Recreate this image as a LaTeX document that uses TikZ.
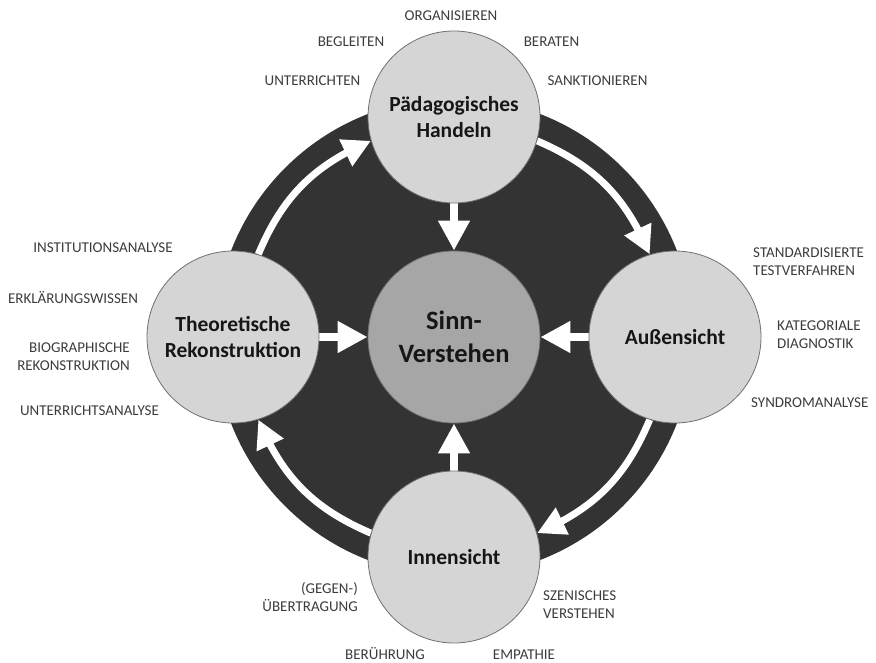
\documentclass[tikz,border=0pt]{standalone}
\usepackage{fontspec}
\setmainfont{Carlito}
\usetikzlibrary{arrows.meta,bending,backgrounds}
\definecolor{ringcol}{HTML}{333333}
\definecolor{disccol}{HTML}{D4D5D4}
\definecolor{corecol}{HTML}{A5A6A5}
\definecolor{rimcol}{HTML}{707070}
\definecolor{lblcol}{HTML}{3C3C3C}
\definecolor{ttlcol}{HTML}{161616}
\tikzset{
  phase/.style={circle, draw=rimcol, line width=0.8pt, fill=disccol, minimum size=172pt,
    inner sep=0pt, align=center, text=ttlcol, font=\bfseries\fontsize{21.5}{26}\selectfont},
  corebox/.style={phase, fill=corecol, font=\bfseries\fontsize{26.5}{33}\selectfont},
  lab/.style={inner sep=0pt, text=lblcol, font=\fontsize{15}{18}\selectfont, anchor=base},
  sarrow/.style={draw=white, line width=8pt, -{Triangle[width=30pt,length=30pt,fill=white]}},
  carrow/.style={draw=white, line width=7pt, -{Triangle[width=28pt,length=28pt,fill=white]}},
}
\begin{document}
\begin{tikzpicture}[x=1pt,y=1pt]
\useasboundingbox (0,0) rectangle (876,-662);
% circles
\node[corebox] (C) at (454,-337) {Sinn-\\Verstehen};
\node[phase] (T) at (454,-117) {Pädagogisches\\Handeln};
\node[phase] (L) at (233,-337) {Theoretische\\Rekonstruktion};
\node[phase] (R) at (675,-337) {Außensicht};
\node[phase] (B) at (454,-557) {Innensicht};
\begin{pgfonlayer}{background}
  \node[circle, fill=ringcol, minimum size=478pt, inner sep=0pt] (ring) at (C) {};
  \draw[sarrow] (T) -- (C);
  \draw[sarrow] (L) -- (C);
  \draw[sarrow] (R) -- (C);
  \draw[sarrow] (B) -- (C);
  \draw[carrow] (L.73) to[bend left=22] (T.196);
  \draw[carrow] (T.344) to[bend left=22] (R.107);
  \draw[carrow] (R.253) to[bend left=22] (B.16);
  \draw[carrow] (B.164) to[bend left=22] (L.287);
\end{pgfonlayer}
% labels top
\node[lab] (l1) at (451,-20) {ORGANISIEREN};
\node[lab] (l2) at (351,-46.7) {BEGLEITEN};
\node[lab] (l3) at (551.5,-46.7) {BERATEN};
\node[lab] (l4) at (312.5,-85) {UNTERRICHTEN};
\node[lab] (l5) at (597.5,-85) {SANKTIONIEREN};
% labels left
\node[lab] (l6) at (103,-252.7) {INSTITUTIONSANALYSE};
\node[lab] (l7) at (73,-303.3) {ERKLÄRUNGSWISSEN};
\node[lab, anchor=base east, align=right] (l8) at (130,-370) {BIOGRAPHISCHE\\REKONSTRUKTION};
\node[lab] (l9) at (89.5,-415) {UNTERRICHTSANALYSE};
% labels right
\node[lab, anchor=base west, align=left] (l10) at (753,-275) {STANDARDISIERTE\\TESTVERFAHREN};
\node[lab, anchor=base west, align=left] (l11) at (777,-348.3) {KATEGORIALE\\DIAGNOSTIK};
\node[lab, anchor=base west] (l12) at (751,-407.7) {SYNDROMANALYSE};
% labels bottom
\node[lab, anchor=base east, align=right] (l13) at (358,-611) {(GEGEN-)\\ÜBERTRAGUNG};
\node[lab, anchor=base west, align=left] (l14) at (543,-618.3) {SZENISCHES\\VERSTEHEN};
\node[lab] (l15) at (385,-659) {BERÜHRUNG};
\node[lab] (l16) at (524,-659) {EMPATHIE};
\end{tikzpicture}
\end{document}
